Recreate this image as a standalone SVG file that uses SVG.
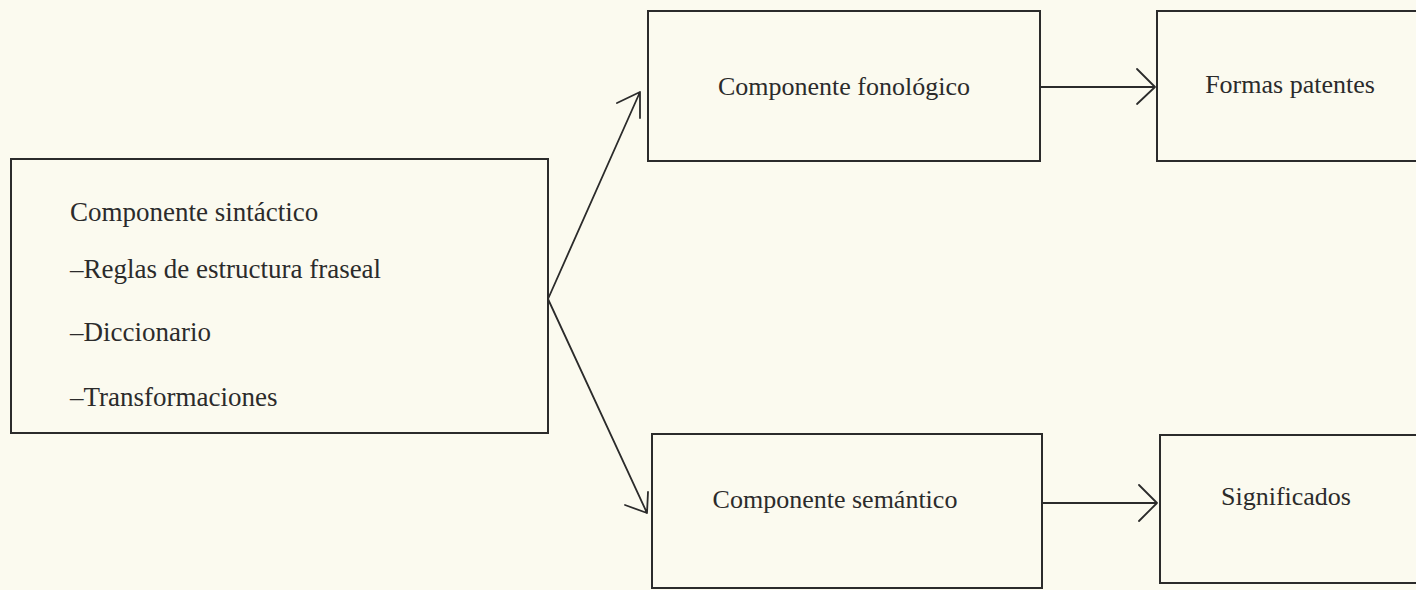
<svg xmlns="http://www.w3.org/2000/svg" width="1416" height="590" viewBox="0 0 1416 590">
<style>
.box{fill:none;stroke:#2b2b2b;stroke-width:2}
.t{font-family:"Liberation Serif","Times New Roman",serif;font-size:26px;fill:#2b2b2b}
.big{font-size:27px}
.c{fill:none;stroke:#2b2b2b;stroke-width:1.8;stroke-linecap:round;stroke-linejoin:round}
</style>
<rect width="1416" height="590" fill="#fbfaef"/>
<g id="sintactico">
<rect class="box" x="11" y="159" width="537" height="274"/>
<text class="t big" x="70" y="221">Componente sintáctico</text>
<text class="t big" x="70" y="278">–Reglas de estructura fraseal</text>
<text class="t big" x="70" y="341">–Diccionario</text>
<text class="t big" x="70" y="406">–Transformaciones</text>
</g>
<g id="fonologico">
<rect class="box" x="648" y="11" width="392" height="150"/>
<text class="t" x="844" y="95" text-anchor="middle">Componente fonológico</text>
</g>
<g id="formas">
<rect class="box" x="1157" y="11" width="270" height="150"/>
<text class="t" x="1290" y="93" text-anchor="middle">Formas patentes</text>
</g>
<g id="semantico">
<rect class="box" x="652" y="434" width="390" height="154"/>
<text class="t" x="835" y="508" text-anchor="middle">Componente semántico</text>
</g>
<g id="significados">
<rect class="box" x="1160" y="435" width="267" height="148"/>
<text class="t" x="1286" y="505" text-anchor="middle">Significados</text>
</g>
<g id="connectors">
<path class="c" d="M548 299 L640 92 M617 103 L640 92 L640 118"/>
<path class="c" d="M548 299 L647 513 M625 505 L647 513 L648 492"/>
<path class="c" d="M1040 87 L1155 87 M1137 69 L1155 87 L1137 104"/>
<path class="c" d="M1042 503 L1157 503 M1139 485 L1157 503 L1139 521"/>
</g>
</svg>
